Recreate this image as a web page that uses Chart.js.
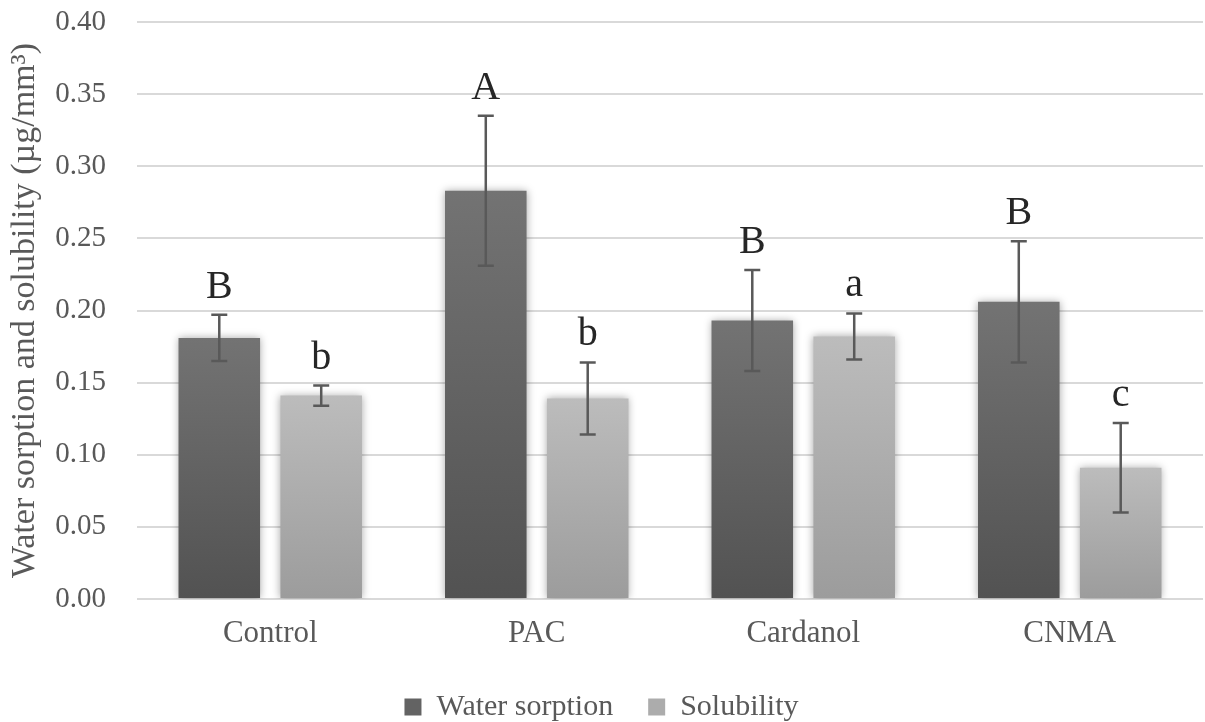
<!DOCTYPE html>
<html lang="en">
<head>
  <meta charset="UTF-8">
  <title>Water sorption and solubility</title>
  <script src="https://cdn.jsdelivr.net/npm/chart.js@4.4.1/dist/chart.umd.min.js"></script>
  <style>
    body {
      margin: 0;
      padding: 0;
      background-color: #ffffff;
    }

    #wrap {
      width: 1205px;
      height: 722px;
    }
  </style>
</head>
<body>
  <div id="wrap"><canvas id="chart" width="1205" height="722"></canvas></div>

  <script>
    // groups and measured values (µg/mm³)
    const categories = ['Control', 'PAC', 'Cardanol', 'CNMA'];
    const waterSorption = [0.181, 0.283, 0.193, 0.206];
    const waterSorptionSd = [0.016, 0.052, 0.035, 0.042];
    const solubility = [0.141, 0.139, 0.182, 0.091];
    const solubilitySd = [0.007, 0.025, 0.016, 0.031];

    // letters from the statistical comparison
    const waterLetters = ['B', 'A', 'B', 'B'];
    const solubilityLetters = ['b', 'b', 'a', 'c'];

    const yTicks = [0, 0.05, 0.10, 0.15, 0.20, 0.25, 0.30, 0.35, 0.40];

    const serif = '"Liberation Serif", "Times New Roman", serif';
    const grey = '#595959';

    // vertical gradient over the height of each bar
    function barGradient(top, bottom) {
      return function (context) {
        const chart = context.chart;
        if (!chart.chartArea || context.raw === undefined) return bottom;
        const y = chart.scales.y;
        const y0 = y.getPixelForValue(0);
        const y1 = y.getPixelForValue(context.raw);
        if (!isFinite(y0) || !isFinite(y1) || y0 === y1) return bottom;
        const g = chart.ctx.createLinearGradient(0, y1, 0, y0);
        g.addColorStop(0, top);
        g.addColorStop(1, bottom);
        return g;
      };
    }

    // soft shadow behind the bars, then error bars and letters on top
    const barExtras = {
      id: 'barExtras',
      beforeDatasetsDraw(chart) {
        const ctx = chart.ctx;
        ctx.save();
        ctx.shadowColor = 'rgba(0, 0, 0, 0.35)';
        ctx.shadowBlur = 8;
      },
      afterDatasetsDraw(chart) {
        const ctx = chart.ctx;
        ctx.restore();

        const y = chart.scales.y;
        const sds = [waterSorptionSd, solubilitySd];
        const letters = [waterLetters, solubilityLetters];

        ctx.save();
        chart.data.datasets.forEach((ds, i) => {
          const meta = chart.getDatasetMeta(i);
          meta.data.forEach((bar, j) => {
            const v = ds.data[j];
            const sd = sds[i][j];
            const yTop = y.getPixelForValue(v + sd);
            const yBot = y.getPixelForValue(v - sd);
            const x = bar.x;

            ctx.strokeStyle = grey;
            ctx.lineWidth = 2.5;
            ctx.beginPath();
            ctx.moveTo(x, yTop);
            ctx.lineTo(x, yBot);
            ctx.moveTo(x - 8, yTop);
            ctx.lineTo(x + 8, yTop);
            ctx.moveTo(x - 8, yBot);
            ctx.lineTo(x + 8, yBot);
            ctx.stroke();

            ctx.fillStyle = '#262626';
            ctx.font = '40px ' + serif;
            ctx.textAlign = 'center';
            ctx.textBaseline = 'alphabetic';
            ctx.fillText(letters[i][j], x, yTop - 17);
          });
        });
        ctx.restore();
      }
    };

    const ctx = document.getElementById('chart').getContext('2d');
    const chart = new Chart(ctx, {
      type: 'bar',
      data: {
        labels: categories,
        datasets: [{
          label: 'Water sorption',
          data: waterSorption,
          backgroundColor: barGradient('#737373', '#525252'),
          categoryPercentage: 0.765,
          barPercentage: 0.8
        }, {
          label: 'Solubility',
          data: solubility,
          backgroundColor: barGradient('#bcbcbc', '#9c9c9c'),
          categoryPercentage: 0.765,
          barPercentage: 0.8
        }]
      },
      options: {
        responsive: false,
        animation: false,
        layout: {
          padding: { top: 22, right: 2, bottom: -10, left: 0 }
        },
        plugins: {
          tooltip: { enabled: false },
          legend: {
            position: 'bottom',
            labels: {
              boxWidth: 17,
              boxHeight: 17,
              padding: 35,
              color: grey,
              font: { family: serif, size: 30 },
              generateLabels(chart) {
                const fills = ['#636363', '#acacac'];
                return chart.data.datasets.map((ds, i) => ({
                  text: ds.label,
                  fillStyle: fills[i],
                  strokeStyle: fills[i],
                  lineWidth: 0,
                  fontColor: grey,
                  datasetIndex: i
                }));
              }
            }
          }
        },
        scales: {
          x: {
            grid: { display: false, drawTicks: false },
            border: { display: false },
            ticks: {
              color: grey,
              padding: 16,
              font: { family: serif, size: 31 }
            },
            afterFit(scale) {
              scale.height = 58;
            }
          },
          y: {
            min: 0,
            max: 0.4,
            afterBuildTicks(scale) {
              scale.ticks = yTicks.map(v => ({ value: v }));
            },
            grid: {
              color: '#d9d9d9',
              lineWidth: 2,
              drawTicks: false
            },
            border: { display: false },
            ticks: {
              color: grey,
              padding: 31,
              font: { family: serif, size: 29 },
              callback: v => v.toFixed(2)
            },
            title: {
              display: true,
              text: 'Water sorption and solubility (µg/mm³)',
              color: grey,
              font: { family: serif, size: 34 },
              padding: { top: 5, bottom: 0 }
            },
            afterFit(scale) {
              // fixed axis width; the layout padding alone sets the top edge
              scale.width = 137;
              scale.paddingTop = 0;
              scale.paddingBottom = 0;
            }
          }
        }
      },
      plugins: [barExtras]
    });
  </script>
</body>
</html>
